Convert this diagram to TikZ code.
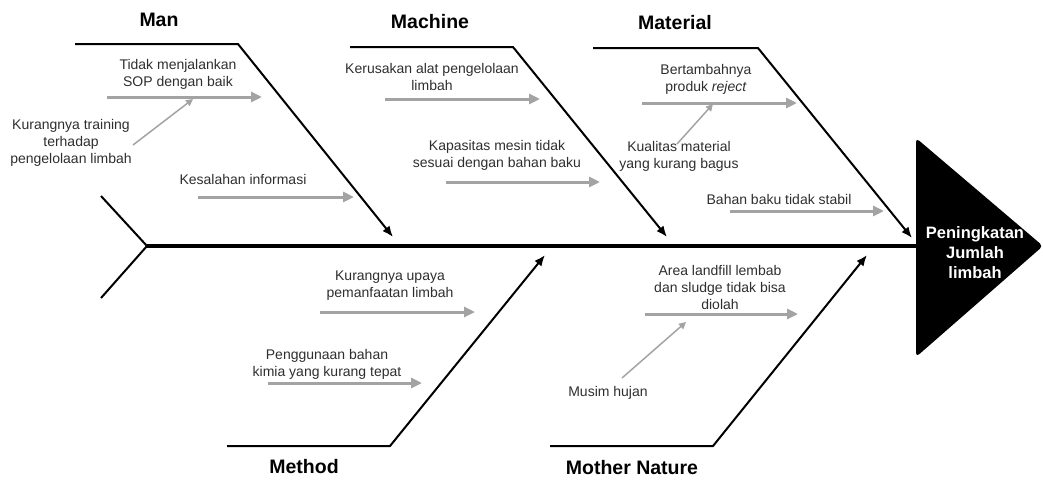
\documentclass[tikz,border=0pt]{standalone}
\usepackage{fontspec}
\setmainfont{Liberation Sans}
\definecolor{ikanHitam}{HTML}{000000}
\definecolor{ikanAbu}{HTML}{A3A3A3}
\definecolor{ikanTeks}{HTML}{2E2E2E}
\usetikzlibrary{
	arrows.meta,
	positioning
}
\tikzset{
	kategori/.style={
		font=\fontsize{19.5}{22}\selectfont\bfseries,
		text=ikanHitam,
		inner sep=0pt
	},
	sebab/.style={
		font=\fontsize{14}{17}\selectfont,
		text=ikanTeks,
		align=center,
		inner sep=0pt
	},
	akibat/.style={
		font=\fontsize{16.5}{20}\selectfont\bfseries,
		text=white,
		align=center,
		inner sep=0pt
	},
	tulang/.style={
		-{Latex[length=11pt,width=9pt]},
		line width=2pt,
		ikanHitam
	},
	panah/.style={
		-{Triangle[length=11pt,width=10pt]},
		line width=3pt,
		ikanAbu
	},
	panahKecil/.style={
		-{Triangle[length=7pt,width=7pt]},
		line width=1.5pt,
		ikanAbu
	}
}

\begin{document}
\begin{tikzpicture}[x=1pt,y=-1pt]
	\useasboundingbox (0,0) rectangle (1043,480);
	% kepala dan tulang punggung
	\coordinate (kepalaAtas) at (916,138);
	\coordinate (kepalaUjung) at (1043,246);
	\coordinate (kepalaBawah) at (916,357);
	\coordinate (kepalaKiri) at (916,246);
	\coordinate (ekorAtas) at (101,196);
	\coordinate (ekor) at (147,246);
	\coordinate (ekorBawah) at (101,298);
	\fill[ikanHitam, rounded corners=4pt] (kepalaAtas) -- (kepalaUjung) -- (kepalaBawah) -- cycle;
	\node[akibat] (hasil) at (975,253) {Peningkatan\\Jumlah\\limbah};
	\draw[line width=2pt] (ekorAtas) -- (ekor) -- (ekorBawah);
	\draw[line width=4.5pt] (ekor) -- (kepalaKiri);

	% tulang atas
	\coordinate (manA) at (75,44);
	\coordinate (manB) at (238,44);
	\coordinate (manC) at (393,237);
	\coordinate (mesinA) at (350,47);
	\coordinate (mesinB) at (513,47);
	\coordinate (mesinC) at (667,237);
	\coordinate (bahanA) at (593,48);
	\coordinate (bahanB) at (758,48);
	\coordinate (bahanC) at (912,238);
	\draw[tulang] (manA) -- (manB) -- (manC);
	\draw[tulang] (mesinA) -- (mesinB) -- (mesinC);
	\draw[tulang] (bahanA) -- (bahanB) -- (bahanC);
	\node[kategori] (man) at (159,20) {Man};
	\node[kategori] (machine) at (430,22) {Machine};
	\node[kategori] (material) at (675,23) {Material};

	% tulang bawah
	\coordinate (metodeA) at (227,446);
	\coordinate (metodeB) at (390,446);
	\coordinate (metodeC) at (545,255);
	\coordinate (alamA) at (550,446);
	\coordinate (alamB) at (713,446);
	\coordinate (alamC) at (867,255);
	\draw[tulang] (metodeA) -- (metodeB) -- (metodeC);
	\draw[tulang] (alamA) -- (alamB) -- (alamC);
	\node[kategori] (method) at (304,467) {Method};
	\node[kategori] (nature) at (632,468) {Mother Nature};

	% sebab - Man
	\node[sebab] (sop) at (178,74) {Tidak menjalankan\\SOP dengan baik};
	\coordinate (sopA) at (107,97);
	\coordinate (sopB) at (262,97);
	\draw[panah] (sopA) -- (sopB);
	\node[sebab] (training) at (71,143) {Kurangnya training\\terhadap\\pengelolaan limbah};
	\coordinate (trainingA) at (133,145);
	\coordinate (trainingB) at (193,99);
	\draw[panahKecil] (trainingA) -- (trainingB);
	\node[sebab] (informasi) at (243,179) {Kesalahan informasi};
	\coordinate (informasiA) at (198,197);
	\coordinate (informasiB) at (354,197);
	\draw[panah] (informasiA) -- (informasiB);

	% sebab - Machine
	\node[sebab] (alat) at (432,77) {Kerusakan alat pengelolaan\\limbah};
	\coordinate (alatA) at (385,99);
	\coordinate (alatB) at (540,99);
	\draw[panah] (alatA) -- (alatB);
	\node[sebab] (kapasitas) at (497,155) {Kapasitas mesin tidak\\sesuai dengan bahan baku};
	\coordinate (kapasitasA) at (446,182);
	\coordinate (kapasitasB) at (600,182);
	\draw[panah] (kapasitasA) -- (kapasitasB);

	% sebab - Material
	\node[sebab] (reject) at (706,79) {Bertambahnya\\produk \textit{reject}};
	\coordinate (rejectA) at (642,103);
	\coordinate (rejectB) at (797,103);
	\draw[panah] (rejectA) -- (rejectB);
	\node[sebab] (kualitas) at (679,156) {Kualitas material\\yang kurang bagus};
	\coordinate (kualitasA) at (677,144);
	\coordinate (kualitasB) at (713,104);
	\draw[panahKecil] (kualitasA) -- (kualitasB);
	\node[sebab] (stabil) at (779,199) {Bahan baku tidak stabil};
	\coordinate (stabilA) at (730,211);
	\coordinate (stabilB) at (884,211);
	\draw[panah] (stabilA) -- (stabilB);

	% sebab - Method
	\node[sebab] (upaya) at (390,286) {Kurangnya upaya\\pemanfaatan limbah};
	\coordinate (upayaA) at (320,312);
	\coordinate (upayaB) at (475,312);
	\draw[panah] (upayaA) -- (upayaB);
	\node[sebab] (kimia) at (327,364) {Penggunaan bahan\\kimia yang kurang tepat};
	\coordinate (kimiaA) at (268,383);
	\coordinate (kimiaB) at (422,383);
	\draw[panah] (kimiaA) -- (kimiaB);

	% sebab - Mother Nature
	\node[sebab] (landfill) at (720,287) {Area landfill lembab\\dan sludge tidak bisa\\diolah};
	\coordinate (landfillA) at (645,314);
	\coordinate (landfillB) at (798,314);
	\draw[panah] (landfillA) -- (landfillB);
	\node[sebab] (hujan) at (608,393) {Musim hujan};
	\coordinate (hujanA) at (622,378);
	\coordinate (hujanB) at (686,322);
	\draw[panahKecil] (hujanA) -- (hujanB);
\end{tikzpicture}
\end{document}
